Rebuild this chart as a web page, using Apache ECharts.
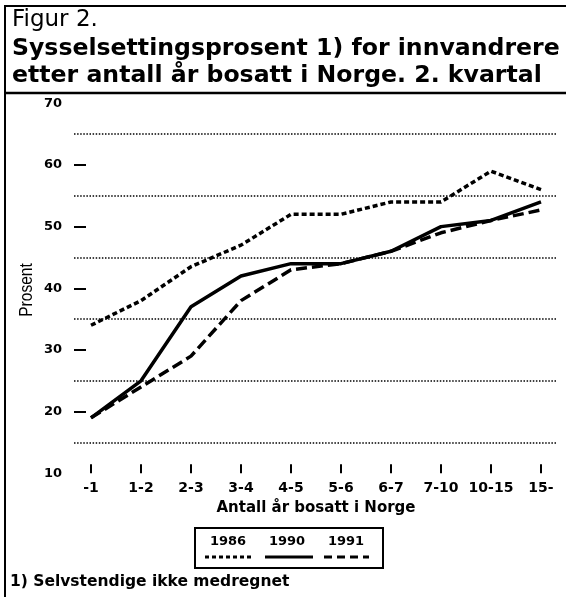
<!DOCTYPE html>
<html>
<head>
<meta charset="utf-8">
<script src="https://cdn.jsdelivr.net/npm/echarts@6/dist/echarts.min.js"></script>
<style>
html,body{margin:0;padding:0;background:#fff;}
#c{width:566px;height:597px;}
</style>
</head>
<body>
<div id="c"></div>
<script>
var categories = ['-1', '1-2', '2-3', '3-4', '4-5', '5-6', '6-7', '7-10', '10-15', '15-'];
var s1986 = [34, 38, 43.5, 47, 52, 52, 54, 54, 59, 56];
var s1990 = [19, 25, 37, 42, 44, 44, 46, 50, 51, 54];
var s1991 = [19, 24, 29, 38, 43, 44, 46, 49, 51, 52.7];
var yLabelValues = [10, 20, 30, 40, 50, 60, 70];
var yTickValues = [20, 30, 40, 50, 60];
var gridValues = [15, 25, 35, 45, 55, 65];

var BOLD = 'DejaVu Sans';
var chart = echarts.init(document.getElementById('c'), null, {renderer: 'canvas'});

var styles = {
  '1986': {type: [5, 3], width: 3.5},
  '1990': {type: 'solid', width: 3.5},
  '1991': {type: [11, 5], width: 3.5}
};

chart.setOption({
  animation: false,
  backgroundColor: '#fff',
  grid: [
    {left: 91, right: 25, top: 103.3, bottom: 597 - 473.3},
    {left: 74, right: 9, top: 134.1, bottom: 597 - 442.5}
  ],
  xAxis: [
    {
      type: 'category', gridIndex: 0, data: categories, boundaryGap: false,
      axisLine: {show: false},
      axisTick: {show: true, inside: true, length: 9, lineStyle: {color: '#000', width: 2}},
      axisLabel: {color: '#000', fontFamily: BOLD, fontWeight: 'bold', fontSize: 14, margin: 8, interval: 0},
      splitLine: {show: false},
      name: 'Antall år bosatt i Norge', nameLocation: 'middle', nameGap: 27,
      nameTextStyle: {color: '#000', fontFamily: BOLD, fontWeight: 'bold', fontSize: 15}
    },
    {type: 'value', gridIndex: 1, show: false, min: 0, max: 1}
  ],
  yAxis: [
    {
      type: 'value', gridIndex: 0, min: 10, max: 70, interval: 10, offset: 5,
      axisLine: {show: false},
      axisTick: {show: true, length: 12, customValues: yTickValues, lineStyle: {color: '#000', width: 2}},
      axisLabel: {color: '#000', fontFamily: BOLD, fontWeight: 'bold', fontSize: 13, margin: 24, customValues: yLabelValues},
      splitLine: {show: false}
    },
    {
      type: 'value', gridIndex: 1, min: gridValues[0], max: gridValues[gridValues.length - 1], interval: 10,
      axisLine: {show: false}, axisTick: {show: false}, axisLabel: {show: false},
      splitLine: {show: true, lineStyle: {color: '#000', type: [1.5, 1.6], width: 1.5}}
    }
  ],
  series: [
    {name: '1986', type: 'line', data: s1986, symbol: 'none', lineStyle: {color: '#000', type: styles['1986'].type, width: styles['1986'].width, cap: 'butt'}, z: 3},
    {name: '1990', type: 'line', data: s1990, symbol: 'none', lineStyle: {color: '#000', type: styles['1990'].type, width: styles['1990'].width}, z: 4},
    {name: '1991', type: 'line', data: s1991, symbol: 'none', lineStyle: {color: '#000', type: styles['1991'].type, width: styles['1991'].width}, z: 3}
  ],
  graphic: [
    {type: 'line', shape: {x1: 5, y1: 5, x2: 5, y2: 597}, style: {stroke: '#000', lineWidth: 2}},
    {type: 'line', shape: {x1: 4, y1: 6, x2: 566, y2: 6}, style: {stroke: '#000', lineWidth: 2}},
    {type: 'line', shape: {x1: 4, y1: 93, x2: 566, y2: 93}, style: {stroke: '#000', lineWidth: 2.5}},
    {type: 'text', x: 12, y: 20.5, style: {text: 'Figur 2.', font: 'normal 23px "DejaVu Sans"', fill: '#000', verticalAlign: 'middle'}},
    {type: 'text', x: 12, y: 48.5, style: {text: 'Sysselsettingsprosent 1) for innvandrere', font: 'bold 23.6px "DejaVu Sans"', fill: '#000', verticalAlign: 'middle'}},
    {type: 'text', x: 12, y: 75.5, style: {text: 'etter antall år bosatt i Norge. 2. kvartal', font: 'bold 23.6px "DejaVu Sans"', fill: '#000', verticalAlign: 'middle'}},
    {type: 'text', x: 26.5, y: 290, rotation: Math.PI / 2, scaleX: 0.82, style: {text: 'Prosent', font: 'normal 19px "Liberation Sans"', fill: '#000', align: 'center', verticalAlign: 'middle'}},
    {type: 'rect', shape: {x: 195, y: 528, width: 188, height: 40}, style: {fill: 'none', stroke: '#000', lineWidth: 2}},
    {type: 'text', x: 228, y: 542, style: {text: '1986', font: 'bold 13px "DejaVu Sans"', fill: '#000', align: 'center', verticalAlign: 'middle'}},
    {type: 'text', x: 287, y: 542, style: {text: '1990', font: 'bold 13px "DejaVu Sans"', fill: '#000', align: 'center', verticalAlign: 'middle'}},
    {type: 'text', x: 346, y: 542, style: {text: '1991', font: 'bold 13px "DejaVu Sans"', fill: '#000', align: 'center', verticalAlign: 'middle'}},
    {type: 'line', shape: {x1: 205, y1: 557, x2: 253, y2: 557}, style: {stroke: '#000', lineWidth: 3, lineDash: [4, 3]}},
    {type: 'line', shape: {x1: 265, y1: 557, x2: 313, y2: 557}, style: {stroke: '#000', lineWidth: 3}},
    {type: 'line', shape: {x1: 324, y1: 557, x2: 369, y2: 557}, style: {stroke: '#000', lineWidth: 3, lineDash: [8, 5]}},
    {type: 'text', x: 10, y: 582, style: {text: '1) Selvstendige ikke medregnet', font: 'bold 15.5px "DejaVu Sans"', fill: '#000', verticalAlign: 'middle'}}
  ]
});
</script>
</body>
</html>
